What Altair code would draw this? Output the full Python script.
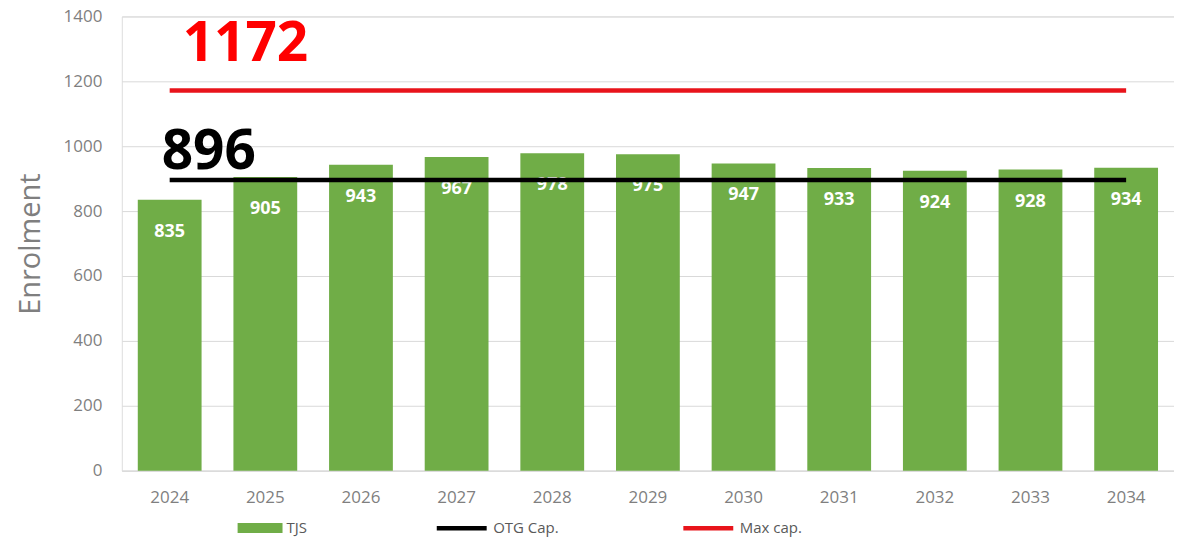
import altair as alt
import pandas as pd

years = [str(y) for y in range(2024, 2035)]
tjs = [835, 905, 943, 967, 978, 975, 947, 933, 924, 928, 934]
otg_cap = 896
max_cap = 1172
bar_series = ["TJS"]
bar_colors = ["#70ad47"]
line_series = ["OTG Cap.", "Max cap."]
line_colors = ["#000000", "#e8141b"]
y_ticks = [0, 200, 400, 600, 800, 1000, 1200, 1400]

bars_df = pd.DataFrame({"year": years, "value": tjs, "series": "TJS"})
lines_df = pd.DataFrame({
    "year": years * 2,
    "value": [otg_cap] * len(years) + [max_cap] * len(years),
    "series": ["OTG Cap."] * len(years) + ["Max cap."] * len(years),
})
max_df = pd.DataFrame({"year": [years[0]], "value": [max_cap], "label": [str(max_cap)]})
otg_df = pd.DataFrame({"year": [years[0]], "value": [otg_cap], "label": [str(otg_cap)]})

FONT = "Open Sans"

x = alt.X(
    "year:N",
    scale=alt.Scale(domain=years, paddingInner=0.333, paddingOuter=0.167),
    axis=alt.Axis(title=None, labelAngle=0, ticks=False, labelPadding=19,
                  labelFontSize=17, labelColor="#7f7f7f", labelFont=FONT,
                  domainColor="#d9d9d9", domainWidth=1, grid=False),
)
y = alt.Y(
    "value:Q",
    scale=alt.Scale(domain=[0, 1400], nice=False),
    axis=alt.Axis(values=y_ticks, format="d", title="Enrolment", ticks=False, domain=False,
                  labelPadding=20, labelFontSize=17, labelColor="#7f7f7f",
                  labelFont=FONT, titleFont=FONT, titleFontSize=29,
                  titleFontWeight="normal", titleColor="#7f7f7f", titlePadding=18,
                  gridColor="#d9d9d9", gridWidth=1),
)

legend_common = dict(
    title=None, orient="none", direction="horizontal",
    labelFont=FONT, labelFontSize=15, labelColor="#595959", labelOffset=4,
)
fill = alt.Fill(
    "series:N", scale=alt.Scale(domain=bar_series, range=bar_colors),
    legend=alt.Legend(legendX=116, legendY=490, symbolType="M-1,-0.22H1V0.22H-1Z",
                      symbolSize=2025, symbolStrokeWidth=0, symbolOpacity=1, **legend_common),
)
stroke = alt.Stroke(
    "series:N", scale=alt.Scale(domain=line_series, range=line_colors),
    legend=alt.Legend(legendX=313, legendY=485, symbolType="stroke",
                      symbolSize=2500, symbolStrokeWidth=4.5, **legend_common),
)

bars = alt.Chart(bars_df).mark_bar().encode(x=x, y=y, fill=fill)
bar_labels = alt.Chart(bars_df).mark_text(
    color="white", fontWeight="bold", fontSize=18, font=FONT, baseline="middle", dy=32
).encode(x=x, y=y, text="value:Q")
lines = alt.Chart(lines_df).mark_line(strokeWidth=4.5).encode(x=x, y=y, stroke=stroke, detail="series:N")
max_text = alt.Chart(max_df).mark_text(
    color="#ff0000", fontWeight="bold", fontSize=55, font=FONT, align="left",
    baseline="alphabetic", dx=13, dy=-29
).encode(x=x, y=y, text="label:N")
otg_text = alt.Chart(otg_df).mark_text(
    color="#000000", fontWeight="bold", fontSize=55, font=FONT, align="left",
    baseline="alphabetic", dx=-8, dy=-11
).encode(x=x, y=y, text="label:N")

chart = alt.layer(bars, bar_labels, lines, max_text, otg_text).resolve_scale(
    fill="independent", stroke="independent"
).properties(
    width=1054, height=455,
    padding={"left": 114, "top": 8, "right": 0, "bottom": 66},
    autosize=alt.AutoSizeParams(type="none"),
).configure_view(stroke=None).configure(background="white").configure_legend(
    columnPadding=115, padding=0
)

chart.save("out.html", embed_options={"renderer": "svg", "actions": False})
